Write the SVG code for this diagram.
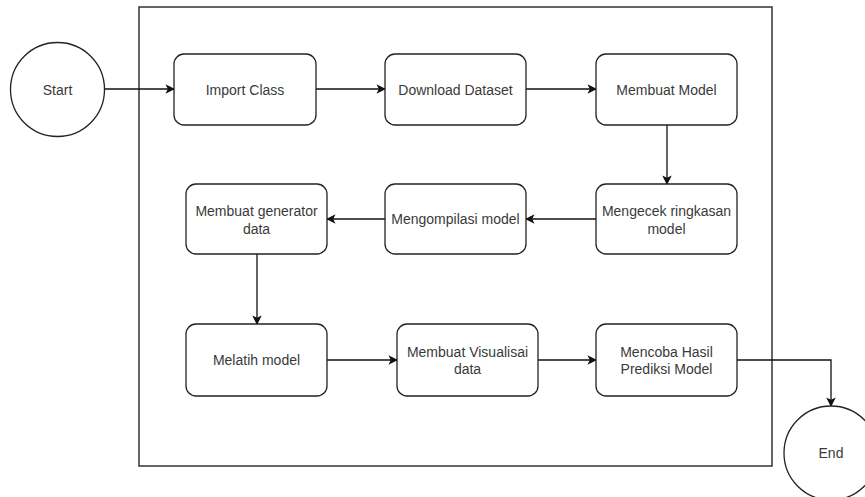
<svg xmlns="http://www.w3.org/2000/svg" width="865" height="497" viewBox="0 0 865 497">
<style>
.box{fill:#fff;stroke:#222;stroke-width:1.3}
.circ{fill:#fff;stroke:#222;stroke-width:1.3}
.t{font-family:"Liberation Sans",Arial,sans-serif;font-size:14px;fill:#3a3a3a;text-anchor:middle;dominant-baseline:central}
.e{fill:none;stroke:#111;stroke-width:1.3}
</style>
<defs>
<marker id="a" viewBox="0 0 10 10" refX="9" refY="5" markerWidth="9.5" markerHeight="9.5" markerUnits="userSpaceOnUse" orient="auto">
<path d="M0,0 L10,5 L0,10 L2.5,5 Z" fill="#111"/>
</marker>
</defs>
<rect id="frame" x="139" y="7" width="633" height="459" fill="#fff" stroke="#333" stroke-width="1.5"/>
<g id="connectors">
<path class="e" d="M104,89 H174" marker-end="url(#a)"/>
<path class="e" d="M316,89 H385" marker-end="url(#a)"/>
<path class="e" d="M526,89 H596" marker-end="url(#a)"/>
<path class="e" d="M667,125 V184" marker-end="url(#a)"/>
<path class="e" d="M596,219 H526" marker-end="url(#a)"/>
<path class="e" d="M385,219 H327" marker-end="url(#a)"/>
<path class="e" d="M257,254 V324" marker-end="url(#a)"/>
<path class="e" d="M327,360 H397" marker-end="url(#a)"/>
<path class="e" d="M538,360 H596" marker-end="url(#a)"/>
<path class="e" d="M737,360 H831 V406" marker-end="url(#a)"/>
</g>
<g id="start"><circle class="circ" cx="57.5" cy="89.5" r="47"/><text class="t" x="57.5" y="89.5">Start</text></g>
<g id="import"><rect class="box" x="174" y="54" width="142" height="71" rx="10"/><text class="t" x="245" y="89.5">Import Class</text></g>
<g id="download"><rect class="box" x="385" y="54" width="141" height="71" rx="10"/><text class="t" x="455.5" y="89.5">Download Dataset</text></g>
<g id="membuatModel"><rect class="box" x="596" y="54" width="141" height="71" rx="10"/><text class="t" x="666.5" y="89.5">Membuat Model</text></g>
<g id="mengecek"><rect class="box" x="596" y="184" width="141" height="70" rx="10"/><text class="t" x="666.5" y="211">Mengecek ringkasan</text><text class="t" x="666.5" y="228.5">model</text></g>
<g id="mengompilasi"><rect class="box" x="385" y="184" width="141" height="70" rx="10"/><text class="t" x="455.5" y="219">Mengompilasi model</text></g>
<g id="generator"><rect class="box" x="186" y="184" width="141" height="70" rx="10"/><text class="t" x="256.5" y="211">Membuat generator</text><text class="t" x="256.5" y="228.5">data</text></g>
<g id="melatih"><rect class="box" x="186" y="324" width="141" height="72" rx="10"/><text class="t" x="256.5" y="360">Melatih model</text></g>
<g id="visualisai"><rect class="box" x="397" y="324" width="141" height="72" rx="10"/><text class="t" x="467.5" y="351.5">Membuat Visualisai</text><text class="t" x="467.5" y="369">data</text></g>
<g id="mencoba"><rect class="box" x="596" y="324" width="141" height="72" rx="10"/><text class="t" x="666.5" y="351.5">Mencoba Hasil</text><text class="t" x="666.5" y="369">Prediksi Model</text></g>
<g id="end"><circle class="circ" cx="831" cy="453" r="47"/><text class="t" x="831" y="453">End</text></g>
</svg>
